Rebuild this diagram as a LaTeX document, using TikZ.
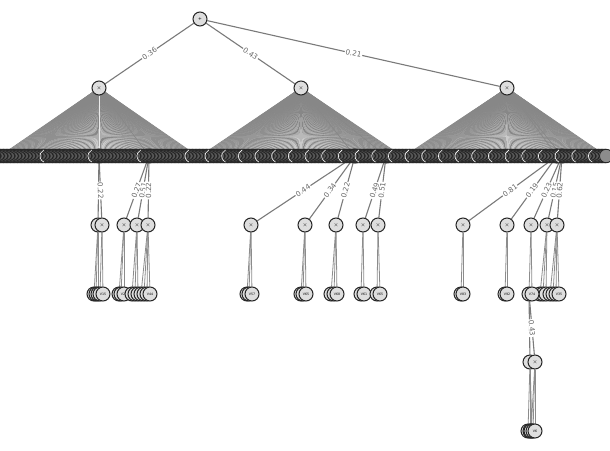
\documentclass[tikz,border=0pt]{standalone}
\usepackage{fontspec}
\setmainfont{DejaVu Sans}
\pgfdeclarelayer{bg}
\pgfsetlayers{bg,main}
\begin{document}
\begin{tikzpicture}[x=1pt,y=-1pt,
  spnnode/.style={circle,draw=black!85,fill=black!13,line width=1pt,minimum size=14pt,inner sep=0pt,font=\fontsize{4.5}{5}\selectfont},
  leafnode/.style={spnnode,font=\fontsize{3.2}{3.4}\selectfont},
  rowleaf/.style={circle,draw=black!85,fill=black!45,line width=0.9pt,minimum size=13.5pt,inner sep=0pt},
  wedge/.style={draw=black!52,line width=1.1pt},
  fanedge/.style={draw=black!47,line width=0.7pt},
  lowedge/.style={draw=black!45,line width=0.8pt},
  wlabel/.style={midway,sloped,fill=white,inner sep=0.8pt,text=black!60,font=\fontsize{7.2}{7.4}\selectfont},
  arcmark/.style={draw=white,line width=0.6pt},
]
\clip (0,0) rectangle (610,450);

% root sum and the three products under it
\node[spnnode] (root) at (200,19) {+};
\node[spnnode] (p1) at (99,88) {$\times$};
\node[spnnode] (p2) at (301,88) {$\times$};
\node[spnnode] (p3) at (507,88) {$\times$};

% sum nodes sitting inside the leaf row
\node[spnnode] (s1a) at (99,156) {+};
\node[spnnode] (s1b) at (149,156) {+};
\node[spnnode] (s2a) at (355,156) {+};
\node[spnnode] (s2b) at (386,156) {+};
\node[spnnode] (s3a) at (557,156) {+};
\node[spnnode] (s3b) at (562,156) {+};

% the dense row of leaves
\foreach \i in {0,...,433} {
  \pgfmathsetmacro\lx{\i*1.4}
  \node[rowleaf] (l\i) at (\lx,156) {};
}
\foreach \a in {40,88,137,185,205,221.67,...,589} {
  \draw[arcmark] ({\a+6.7+6.7*cos(115)},{156+6.7*sin(115)}) arc[start angle=115,end angle=245,radius=6.7];
}

% fans from the products to their leaves
\begin{pgfonlayer}{bg}
  \draw[wedge] (root) -- node[wlabel] {0.36} (p1);
  \draw[wedge] (root) -- node[wlabel] {0.43} (p2);
  \draw[wedge] (root) -- node[wlabel] {0.21} (p3);
  \foreach \i in {0,...,141} {\draw[fanedge] (p1) -- (l\i);}
  \foreach \i in {143,...,287} {\draw[fanedge] (p2) -- (l\i);}
  \foreach \i in {289,...,433} {\draw[fanedge] (p3) -- (l\i);}
  \draw[draw=black!8,line width=0.8pt] (p1) -- (s1a);
  \draw[fanedge] (p1) -- (s1b);
  \draw[fanedge] (p2) -- (s2a);
  \draw[fanedge] (p2) -- (s2b);
  \draw[fanedge] (p3) -- (s3a);
  \draw[fanedge] (p3) -- (s3b);
\end{pgfonlayer}

% second level products
\node[spnnode] (q1) at (98,225) {$\times$};
\node[spnnode] (q2) at (102,225) {$\times$};
\node[spnnode] (q3) at (124,225) {$\times$};
\node[spnnode] (q4) at (137,225) {$\times$};
\node[spnnode] (q5) at (148,225) {$\times$};
\node[spnnode] (r1) at (251,225) {$\times$};
\node[spnnode] (r2) at (305,225) {$\times$};
\node[spnnode] (r3) at (336,225) {$\times$};
\node[spnnode] (r4) at (363,225) {$\times$};
\node[spnnode] (r5) at (378,225) {$\times$};
\node[spnnode] (t1) at (463,225) {$\times$};
\node[spnnode] (t2) at (507,225) {$\times$};
\node[spnnode] (t3) at (531,225) {$\times$};
\node[spnnode] (t4) at (547,225) {$\times$};
\node[spnnode] (t5) at (557,225) {$\times$};

\begin{pgfonlayer}{bg}
  \draw[wedge] (s1a) -- (q1);
  \draw[wedge] (s1a) -- node[wlabel] {0.22} (q2);
  \draw[wedge] (s1b) -- node[wlabel] {0.27} (q3);
  \draw[wedge] (s1b) -- node[wlabel] {0.51} (q4);
  \draw[wedge] (s1b) -- node[wlabel] {0.22} (q5);
  \draw[wedge] (s2a) -- node[wlabel] {0.44} (r1);
  \draw[wedge] (s2a) -- node[wlabel] {0.34} (r2);
  \draw[wedge] (s2a) -- node[wlabel] {0.22} (r3);
  \draw[wedge] (s2b) -- node[wlabel] {0.49} (r4);
  \draw[wedge] (s2b) -- node[wlabel] {0.51} (r5);
  \draw[wedge] (s3a) -- node[wlabel] {0.81} (t1);
  \draw[wedge] (s3a) -- node[wlabel] {0.19} (t2);
  \draw[wedge] (s3b) -- node[wlabel] {0.23} (t3);
  \draw[wedge] (s3b) -- node[wlabel] {0.15} (t4);
  \draw[wedge] (s3b) -- node[wlabel] {0.62} (t5);
\end{pgfonlayer}

% leaves under the second level products
\foreach \pn/\lst in {q1/{94/V11,96/V12,98/V13},q2/{100/V14,103/V15},
    q3/{119/V21,121/V22,124/V23},q4/{132/V31,135/V32,138/V33},
    q5/{141/V41,144/V42,147/V43,150/V44},
    r1/{247/V51,249/V52,252/V57},r2/{301/V61,303/V62,306/V65},
    r3/{331/V66,334/V67,337/V68},r4/{361/V81,364/V61},r5/{377/V85,380/V65},
    t1/{461/V81,463/V83},t2/{505/V91,507/V92},
    t4/{540/V21,543/V23,546/V25},t5/{550/V31,553/V33,556/V34,559/V35}} {
  \foreach \x/\t [count=\k] in \lst {
    \node[leafnode] (\pn l\k) at (\x,294) {\t};
    \begin{pgfonlayer}{bg}
      \draw[lowedge] (\pn) -- (\pn l\k);
    \end{pgfonlayer}
  }
}

% the deeper branch
\node[spnnode] (u) at (529,294) {+};
\node[leafnode] (t3l1) at (532,294) {V74};
\node[spnnode] (w1) at (530,362) {$\times$};
\node[spnnode] (w2) at (535,362) {$\times$};
\begin{pgfonlayer}{bg}
  \draw[lowedge] (t3) -- (u);
  \draw[lowedge] (t3) -- (t3l1);
  \draw[wedge] (u) -- (w1);
  \draw[wedge] (u) -- node[wlabel] {0.43} (w2);
\end{pgfonlayer}
\foreach \pn/\lst in {w1/{528/V1,530/V2,532/V3},w2/{531/V4,533/V5,535/V6}} {
  \foreach \x/\t [count=\k] in \lst {
    \node[leafnode] (\pn l\k) at (\x,431) {\t};
    \begin{pgfonlayer}{bg}
      \draw[lowedge] (\pn) -- (\pn l\k);
    \end{pgfonlayer}
  }
}
\end{tikzpicture}
\end{document}
